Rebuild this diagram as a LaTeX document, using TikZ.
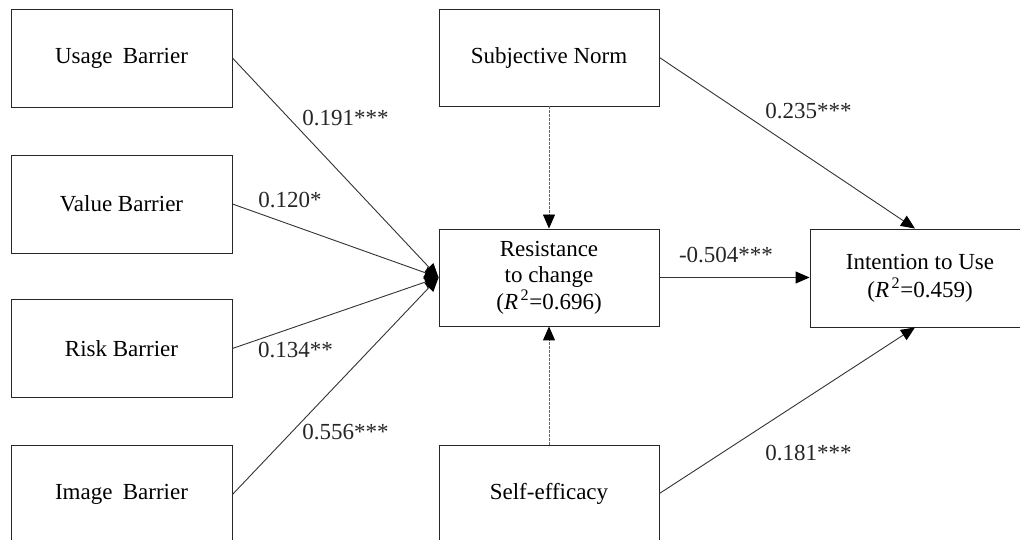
\documentclass[tikz,border=0pt]{standalone}
\usepackage{fontspec}
\setmainfont{Liberation Serif}
\usetikzlibrary{arrows.meta,calc}
\begin{document}
\begin{tikzpicture}[x=1pt,y=1pt,
  font=\fontsize{23}{26.5}\selectfont,
  box/.style={draw=black!85,line width=0.9pt,minimum width=221pt,minimum height=98pt,inner sep=0pt,align=center},
  arr/.style={draw=black!80,line width=0.9pt,-{Triangle[length=14pt,width=12pt,color=black]}},
  darr/.style={arr,draw=black!60,dash pattern=on 2.5pt off 1.5pt},
  lab/.style={inner sep=0pt,text=black!85}]
\useasboundingbox (0,0) rectangle (1020,540);
\clip (0,0) rectangle (1020,540);
\fill[white] (0,0) rectangle (1020,540);
% left column
\node[box] (ub) at (121.5,482) {Usage\hspace{0.45em}Barrier};
\node[box] (vb) at (121.5,336) {Value Barrier};
\node[box] (rb) at (121.5,191.5) {Risk Barrier};
\node[box] (ib) at (121.5,45.5) {Image\hspace{0.45em}Barrier};
% middle column
\node[box,minimum width=220pt,minimum height=97pt] (sn) at (549,482.5) {Subjective Norm};
\node[box,minimum width=220pt,minimum height=97pt] (rc) at (549,262.5) {Resistance\\to change\\(\textit{R}\textsuperscript{\,2}=0.696)};
\node[box,minimum width=220pt,minimum height=97pt] (se) at (549,46.5) {Self-efficacy};
% right
\node[box,minimum width=220pt,font=\fontsize{23}{28}\selectfont] (iu) at (920,262) {Intention to Use\\(\textit{R}\textsuperscript{\,2}=0.459)};
% connectors
\draw[arr] (ub.east) -- (rc.west);
\draw[arr] (vb.east) -- (rc.west);
\draw[arr] (rb.east) -- (rc.west);
\draw[arr] (ib.east) -- (rc.west);
\draw[darr] (sn.south) -- (rc.north);
\draw[darr] (se.north) -- (rc.south);
\draw[arr] (rc.east) -- (rc.east -| iu.west);
\draw[arr] (sn.east) -- ($(iu.north)+(-5,0)$);
\draw[arr] (se.east) -- ($(iu.south)+(-5,0)$);
% labels
\node[lab] (l191) at (345.5,422) {0.191***};
\node[lab] (l120) at (290,340) {0.120*};
\node[lab] (l134) at (295.5,190) {0.134**};
\node[lab] (l556) at (345.5,108) {0.556***};
\node[lab] (l235) at (808.5,429) {0.235***};
\node[lab] (l504) at (726,285) {-0.504***};
\node[lab] (l181) at (808.5,87) {0.181***};
\end{tikzpicture}
\end{document}
